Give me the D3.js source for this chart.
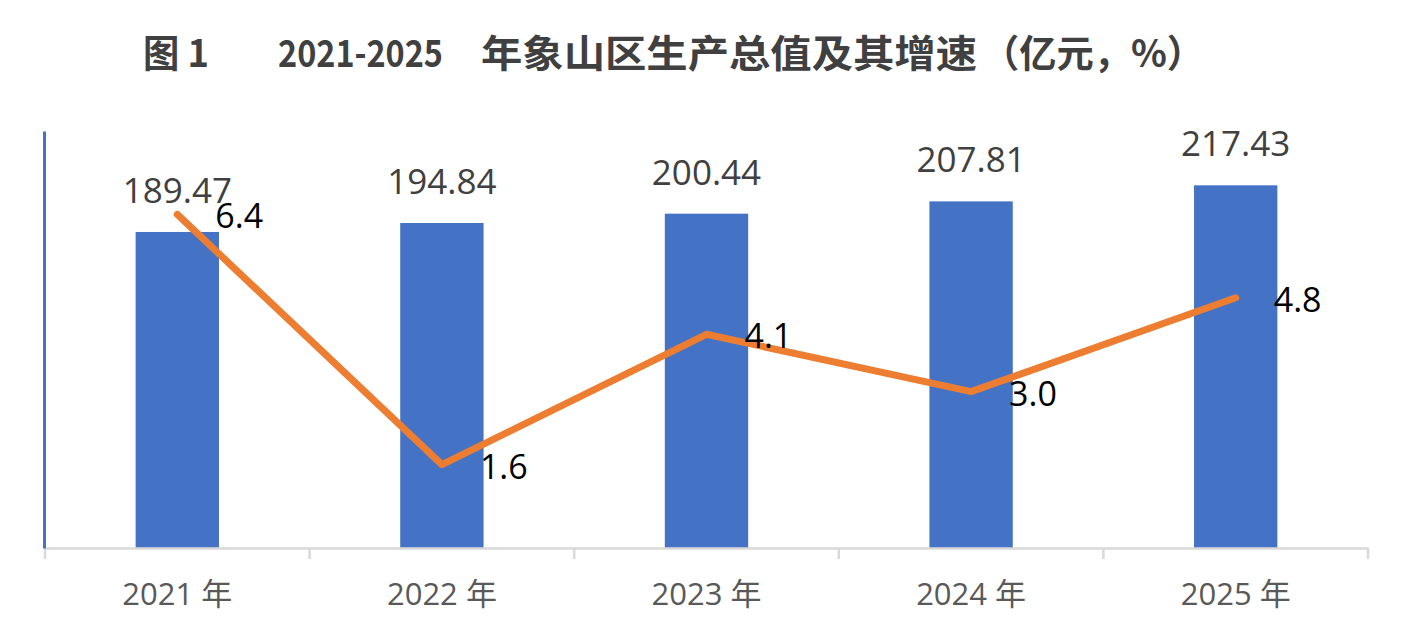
<!DOCTYPE html>
<html>
<head>
<meta charset="utf-8">
<script src="https://cdn.jsdelivr.net/npm/d3@7"></script>
<style>
  body { margin: 0; background: #fff; }
  text { font-family: "Open Sans", "Noto Sans CJK SC", sans-serif; }
</style>
</head>
<body>
<svg class="chart"></svg>
<script>
var years = ["2021", "2022", "2023", "2024", "2025"];
var yearLabels = ["2021 年", "2022 年", "2023 年", "2024 年", "2025 年"];
var gdp = [189.47, 194.84, 200.44, 207.81, 217.43];
var growth = [6.4, 1.6, 4.1, 3.0, 4.8];
var growthLabels = ["6.4", "1.6", "4.1", "3.0", "4.8"];

var width = 1416;
var height = 642;
var margin = {top: 131, right: 48, bottom: 94, left: 45};

var svg = d3.select(".chart")
    .attr("width", width)
    .attr("height", height);

// title, split in pieces so each one fits the width it has in the picture
var titleParts = [
    {x: 143, w: 66, t: "图 1"},
    {x: 278, w: 165, t: "2021-2025"},
    {x: 481, w: 496, t: "年象山区生产总值及其增速"},
    {x: 982, w: 222, t: "（亿元，%）"}
];
svg.selectAll(".title")
    .data(titleParts)
    .enter()
    .append("text")
    .attr("class", "title")
    .attr("x", function(d){ return d.x; })
    .attr("y", 67)
    .attr("textLength", function(d){ return d.w; })
    .attr("lengthAdjust", "spacingAndGlyphs")
    .style("font-family", '"Noto Sans CJK SC", sans-serif')
    .style("font-weight", "bold")
    .style("font-size", "38px")
    .attr("fill", "#404040")
    .text(function(d){ return d.t; });

var xChart = d3.scaleBand()
    .domain(years)
    .range([margin.left, width - margin.right])
    .padding(0);

var yChart = d3.scaleLinear()
    .domain([0, 250])
    .range([height - margin.bottom, margin.top]);

var yRate = d3.scaleLinear()
    .domain([0, 8])
    .range([height - margin.bottom, margin.top]);

var barWidth = xChart.bandwidth() * 0.315;
var base = height - margin.bottom;

// bars
svg.selectAll(".bar")
    .data(gdp)
    .enter()
    .append("rect")
    .attr("class", "bar")
    .attr("x", function(d, i){ return xChart(years[i]) + (xChart.bandwidth() - barWidth) / 2; })
    .attr("y", function(d){ return yChart(d); })
    .attr("width", barWidth)
    .attr("height", function(d){ return base - yChart(d); })
    .attr("fill", "#4472C4");

// x axis
var xAxis = d3.axisBottom(xChart)
    .tickSize(0)
    .tickFormat(function(d, i){ return yearLabels[i]; });

var gx = svg.append("g")
    .attr("class", "xAxis")
    .attr("transform", "translate(0," + base + ")")
    .call(xAxis);
gx.select(".domain").attr("stroke", "#d9d9d9").attr("stroke-width", 2.5);
gx.selectAll("text")
    .attr("dy", 0)
    .attr("y", 57)
    .style("font-size", "31px")
    .attr("fill", "#595959");

var edges = years.map(function(d){ return xChart(d); }).concat([width - margin.right]);
gx.selectAll(".edge")
    .data(edges)
    .enter()
    .append("line")
    .attr("class", "edge")
    .attr("x1", function(d){ return d; })
    .attr("x2", function(d){ return d; })
    .attr("y1", 0)
    .attr("y2", 11)
    .attr("stroke", "#d9d9d9")
    .attr("stroke-width", 2.5);

// left axis line
var gy = svg.append("g")
    .attr("class", "y axis")
    .attr("transform", "translate(" + (margin.left - 1) + ",0)")
    .call(d3.axisLeft(yChart).ticks(0).tickSize(0));
gy.select(".domain").attr("stroke", "#4472C4").attr("stroke-width", 3);

// growth line
var line = d3.line()
    .x(function(d, i){ return xChart(years[i]) + xChart.bandwidth() / 2; })
    .y(function(d){ return yRate(d); });

svg.append("path")
    .datum(growth)
    .attr("d", line)
    .attr("fill", "none")
    .attr("stroke", "#ED7D31")
    .attr("stroke-width", 7)
    .attr("stroke-linecap", "round")
    .attr("stroke-linejoin", "round");

// bar labels
svg.selectAll(".barLabel")
    .data(gdp)
    .enter()
    .append("text")
    .attr("class", "barLabel")
    .attr("x", function(d, i){ return xChart(years[i]) + xChart.bandwidth() / 2; })
    .attr("y", function(d){ return yChart(d) - 29; })
    .attr("text-anchor", "middle")
    .style("font-size", "35px")
    .attr("fill", "#404040")
    .text(function(d){ return d.toFixed(2); });

// line labels
svg.selectAll(".rateLabel")
    .data(growth)
    .enter()
    .append("text")
    .attr("class", "rateLabel")
    .attr("x", function(d, i){ return xChart(years[i]) + xChart.bandwidth() / 2 + 38; })
    .attr("y", function(d){ return yRate(d) + 14; })
    .style("font-size", "34px")
    .attr("fill", "#000")
    .text(function(d, i){ return growthLabels[i]; });
</script>
</body>
</html>
